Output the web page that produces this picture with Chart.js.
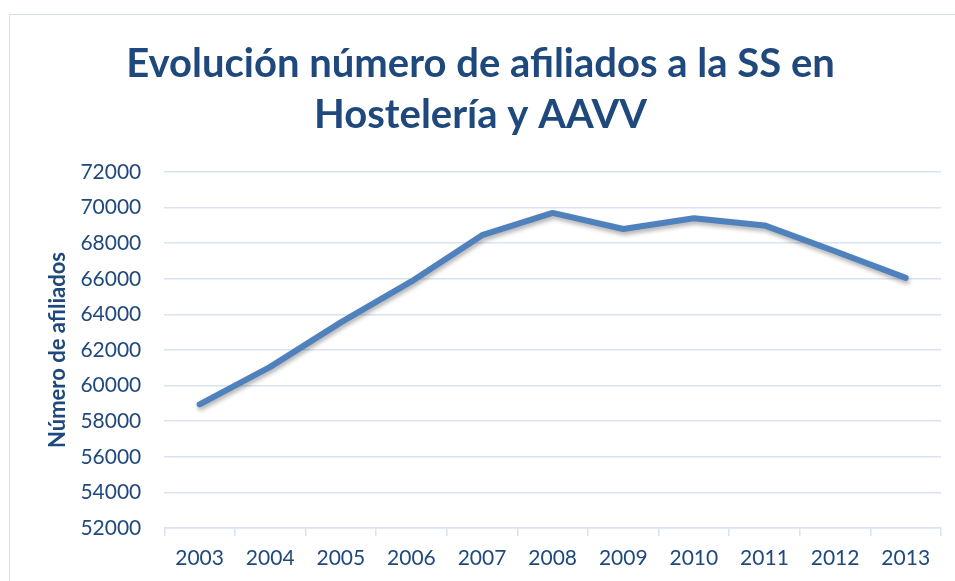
<!DOCTYPE html>
<html>
<head>
<meta charset="utf-8">
<script src="https://cdn.jsdelivr.net/npm/chart.js@4.4.0/dist/chart.umd.min.js"></script>
<style>
  html, body { margin: 0; padding: 0; background: #fff; overflow: hidden; }
  #wrap { position: relative; width: 955px; height: 581px; }
  #frame { position: absolute; left: 9px; top: 14px; width: 960px; height: 600px; border: 1px solid #d6e0ee; pointer-events: none; }
</style>
</head>
<body>
<div id="wrap">
  <canvas id="afiliadosChart" width="955" height="581"></canvas>
  <div id="frame"></div>
</div>
<script>
const years = ['2003', '2004', '2005', '2006', '2007', '2008', '2009', '2010', '2011', '2012', '2013'];
const afiliados = [58950, 61050, 63550, 65850, 68450, 69700, 68800, 69400, 69000, 67550, 66050];
const titleLines = ['Evolución número de afiliados a la SS en', 'Hostelería y AAVV'];
const yAxisTitle = 'Número de afiliados';
const yMin = 52000, yMax = 72000, yStep = 2000;

const textBlue = '#1F497D';
const gridBlue = '#d9e4f2';

// soft shadow under the line, like the spreadsheet original
const lineShadow = {
    id: 'lineShadow',
    beforeDatasetDraw(chart) {
        const c = chart.ctx;
        c.save();
        c.shadowColor = 'rgba(0,0,0,0.3)';
        c.shadowBlur = 4;
        c.shadowOffsetX = 1;
        c.shadowOffsetY = 3;
    },
    afterDatasetDraw(chart) {
        chart.ctx.restore();
    }
};

function drawChart() {
    const ctx = document.getElementById('afiliadosChart').getContext('2d');
    new Chart(ctx, {
        type: 'line',
        data: {
            labels: years,
            datasets: [{
                label: yAxisTitle,
                data: afiliados,
                borderColor: '#4F81BD',
                borderWidth: 6,
                borderCapStyle: 'round',
                borderJoinStyle: 'round',
                pointRadius: 0,
                tension: 0,
                fill: false
            }]
        },
        options: {
            responsive: false,
            animation: false,
            layout: { padding: { left: 20, right: 14, top: 0, bottom: 0 } },
            plugins: {
                legend: { display: false },
                tooltip: { enabled: false },
                title: {
                    display: true,
                    text: titleLines,
                    color: textBlue,
                    font: { family: 'Lato', size: 40, weight: 'bold', lineHeight: 1.275 },
                    padding: { top: 39, bottom: 31 }
                }
            },
            scales: {
                x: {
                    offset: true,
                    grid: {
                        offset: true,
                        drawOnChartArea: false,
                        drawTicks: true,
                        tickLength: 8,
                        color: gridBlue,
                        lineWidth: 1.5
                    },
                    border: { display: true, color: gridBlue, width: 1.5 },
                    ticks: {
                        color: textBlue,
                        padding: 12,
                        font: { family: 'Lato', size: 21, lineHeight: 1.0 }
                    }
                },
                y: {
                    min: yMin,
                    max: yMax,
                    grid: { color: gridBlue, lineWidth: 1.5, drawTicks: false },
                    border: { display: false },
                    ticks: {
                        stepSize: yStep,
                        color: textBlue,
                        padding: 23,
                        font: { family: 'Lato', size: 21 },
                        callback: function (value) {
                            return String(value);
                        }
                    },
                    title: {
                        display: true,
                        text: yAxisTitle,
                        color: textBlue,
                        font: { family: 'Lato', size: 22, weight: 'bold' },
                        padding: { top: 25, bottom: -14 }
                    }
                }
            }
        },
        plugins: [lineShadow]
    });
}

Promise.all([
    document.fonts.load('21px Lato'),
    document.fonts.load('bold 40px Lato')
]).then(drawChart, drawChart);
</script>
</body>
</html>
